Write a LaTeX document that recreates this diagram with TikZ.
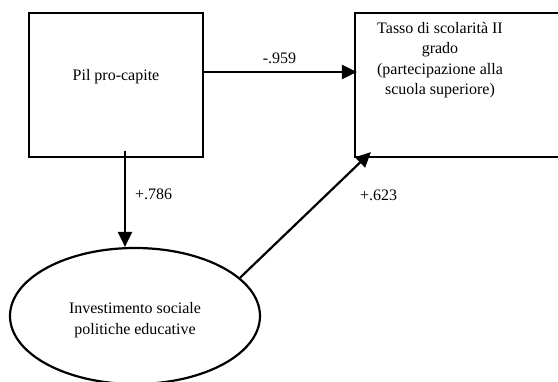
\documentclass[tikz,border=0pt]{standalone}
\usepackage{fontspec}
\setmainfont{Liberation Serif}
\usetikzlibrary{arrows.meta,positioning,shapes.geometric,calc}

\begin{document}
\begin{tikzpicture}[x=1pt, y=1pt,
  box/.style={rectangle, draw, line width=2.2pt, inner sep=0pt},
  latent/.style={ellipse, draw, line width=2.2pt, inner sep=0pt,
    minimum width=250pt, minimum height=136pt},
  txt/.style={align=center, font=\fontsize{16}{20.5}\selectfont, inner sep=0pt},
  arr/.style={-{Triangle[length=15pt, width=14pt]}, line width=2.2pt},
  lbl/.style={font=\fontsize{16}{18}\selectfont, inner sep=1pt},
]
\useasboundingbox (0,0) rectangle (558,-381);

\node[box, minimum width=174pt, minimum height=144pt] (pil) at (116,-85) {};
\node[txt] (piltxt) at (116,-77) {Pil pro-capite};

\node[box, minimum width=212pt, minimum height=144pt] (tasso) at (461,-85) {};
\node[txt, anchor=north] (tassotxt) at (440,-22)
  {Tasso di scolarità II\\grado\\(partecipazione alla\\scuola superiore)};

\node[latent] (inv) at (135,-316) {};
\node[txt] (invtxt) at (135,-320) {Investimento sociale\\politiche educative};

% paths
\coordinate (a1) at ($(pil.east)+(-2,13)$);
\coordinate (b1) at ($(tasso.west)+(3,13)$);
\draw[arr] (a1) -- node[lbl, above=6pt]{-.959} (b1);

\coordinate (a2) at ($(pil.south)+(9,7)$);
\draw[arr] (a2) -- (a2 |- inv.north) node[lbl, pos=0.45, right=8pt]{+.786};

\coordinate (b3) at ($(tasso.south west)+(17,6)$);
\draw[arr] (inv.20) -- (b3);
\node[lbl, anchor=west] (w3) at (359,-195) {+.623};
\end{tikzpicture}
\end{document}
